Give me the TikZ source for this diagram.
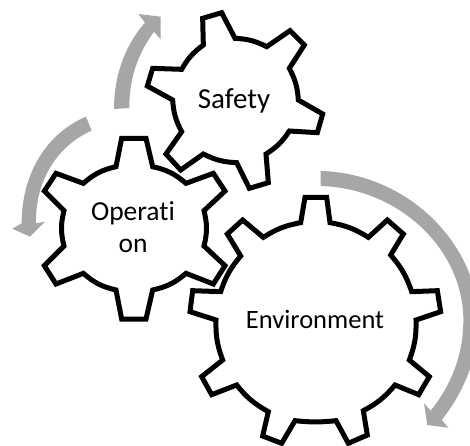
\documentclass[tikz,border=0pt]{standalone}
\usepackage{fontspec}
\setmainfont{Carlito}
\definecolor{arrowgray}{HTML}{A6A6A6}
\tikzset{
  gear/.style={draw=black,fill=white,line width=5pt,miter limit=6,line join=miter},
  cyc/.style={fill=arrowgray,draw=none},
  zoomed/.style={x=0.33333pt,y=-0.33333pt},
  lbl/.style={font=\fontsize{26.5}{31}\selectfont,text=black,inner sep=0pt,anchor=base}
}
\begin{document}
\begin{tikzpicture}[x=1pt,y=-1pt]
\useasboundingbox (0,0) rectangle (470,445);
\clip (0,0) rectangle (470,445);
% Arrows
\begin{scope}[zoomed]
\fill[cyc] (342,327) .. controls (342,220) and (380,130) .. (435,68) -- (415,42) -- (482,50) -- (482,118) -- (462,95) .. controls (415,160) and (388,230) .. (388,324) -- cycle;
\fill[cyc] (258,350) .. controls (140,400) and (65,520) .. (65,670) -- (37,686) -- (90,710) -- (135,665) -- (108,670) .. controls (105,540) and (175,435) .. (275,392) -- cycle;
\end{scope}
\begin{scope}[shift={(180pt,-160pt)},zoomed]
\fill[cyc] (422,33) .. controls (690,40) and (895,260) .. (895,480) .. controls (895,600) and (845,705) .. (785,780) -- (805,803) -- (742,795) -- (732,730) -- (752,752) .. controls (810,680) and (850,590) .. (850,480) .. controls (850,270) and (660,85) .. (422,78) -- cycle;
\end{scope}
% Operation gear
\begin{scope}[shift={(0pt,-120pt)},zoomed]
\draw[gear] (365,55) -- (438,55) -- (458,140) to[bend left=14] (558,190) -- (640,160) -- (675,213) -- (612,272) to[bend left=14] (612,378) -- (675,437) -- (640,492) -- (558,460) to[bend left=14] (458,510) -- (438,597) -- (365,597) -- (348,510) to[bend left=14] (250,460) -- (168,492) -- (133,437) -- (192,378) to[bend left=14] (192,272) -- (133,213) -- (168,160) -- (250,190) to[bend left=14] (348,140) -- cycle;
\end{scope}
% Safety gear
\begin{scope}[shift={(130pt,0pt)},zoomed]
\draw[gear] (218,55) -- (275,38) -- (315,115) to[bend left=12] (410,140) -- (480,92) -- (523,135) -- (478,205) to[bend left=12] (505,300) -- (578,342) -- (562,398) -- (478,393) to[bend left=12] (408,462) -- (415,548) -- (358,565) -- (320,488) to[bend left=12] (220,462) -- (152,510) -- (108,462) -- (155,395) to[bend left=12] (128,300) -- (52,258) -- (68,205) -- (155,208) to[bend left=12] (220,135) -- cycle;
\end{scope}
% Environment gear
\begin{scope}[shift={(180pt,-160pt)},zoomed]
\draw[gear] (375,112) -- (440,112) -- (450,188) to[bend left=11] (565,232) -- (622,180) -- (670,222) -- (632,285) to[bend left=11] (695,395) -- (772,392) -- (782,455) -- (708,480) to[bend left=11] (688,600) -- (748,650) -- (716,704) -- (645,675) to[bend left=11] (550,752) -- (562,825) -- (505,850) -- (468,782) to[bend left=6] (345,782) -- (305,850) -- (248,828) -- (265,755) to[bend left=11] (170,675) -- (95,704) -- (65,650) -- (128,600) to[bend left=11] (108,480) -- (30,455) -- (38,392) -- (122,395) to[bend left=11] (182,288) -- (142,222) -- (188,180) -- (250,232) to[bend left=11] (362,188) -- cycle;
\end{scope}
% Labels
\node[lbl,font=\fontsize{29}{34}\selectfont] (safety) at (234,108) {Safety};
\node[lbl,font=\fontsize{27.5}{32}\selectfont] (oper1) at (133,220) {Operat\kern0pt i};
\node[lbl,font=\fontsize{27.5}{32}\selectfont] (oper2) at (133,252) {on};
\node[lbl] (env) at (315,328) {Environment};
\end{tikzpicture}
\end{document}
